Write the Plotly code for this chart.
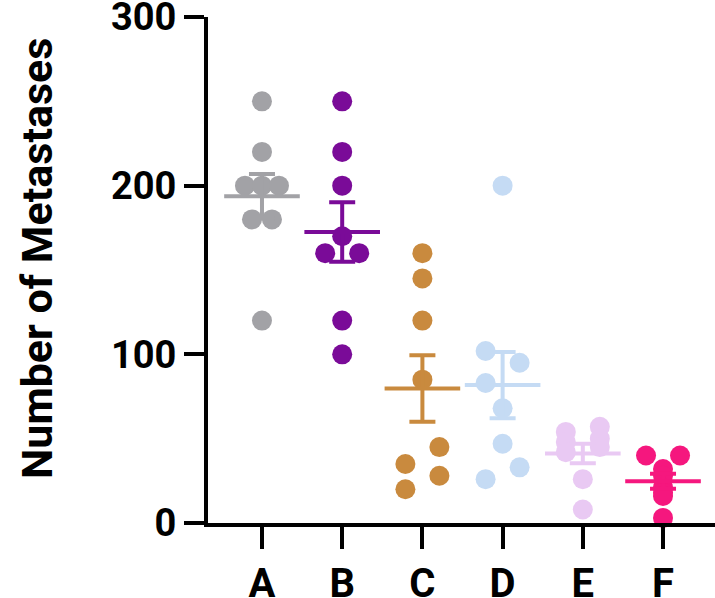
import numpy as np
import plotly.graph_objects as go

categories = ["A", "B", "C", "D", "E", "F"]
values_A = [250, 220, 200, 200, 200, 180, 180, 120]
values_B = [250, 220, 200, 170, 160, 160, 120, 100]
values_C = [160, 145, 120, 85, 45, 35, 28, 20]
values_D = [200, 102, 95, 83, 68, 47, 33, 26]
values_E = [57, 54, 50, 48, 45, 42, 26, 8]
values_F = [40, 40, 32, 28, 21, 18, 16, 3]
group_values = [values_A, values_B, values_C, values_D, values_E, values_F]
colors = ["#a2a2a6", "#7a0b98", "#c98a3e", "#c5dbf4", "#e9c9f3", "#f5177e"]
y_ticks = [0, 100, 200, 300]
y_title = "Number of Metastases"

W, H = 715, 598
ML, MR, MT, MB = 208, 0, 17, 75
Y_RANGE = [0, 300]
X_RANGE = [-0.673, 5.648]
DOT = 20
STEP = 17

plot_w = W - ML - MR
plot_h = H - MT - MB
px_x = plot_w / (X_RANGE[1] - X_RANGE[0])
px_y = plot_h / (Y_RANGE[1] - Y_RANGE[0])


def swarm(vals):
    """Prism-like spreading: nearby points alternate left/right, equal values spread symmetrically."""
    idx = sorted(range(len(vals)), key=lambda i: vals[i])
    rows = []
    for i in idx:
        if rows and vals[rows[-1][0]] == vals[i]:
            rows[-1].append(i)
        else:
            rows.append([i])
    clusters = []
    for r in rows:
        if clusters and (vals[r[0]] - vals[clusters[-1][-1][0]]) * px_y < DOT * 1.05:
            clusters[-1].append(r)
        else:
            clusters.append([r])
    offs = [0.0] * len(vals)
    for cl in clusters:
        has_multi = any(len(r) > 1 for r in cl)
        side = -1
        for r in cl:
            k = len(r)
            if k > 1:
                sp = STEP if (k >= 3 or len(cl) > 1) else DOT
                if k == 2 and len(cl) > 1:
                    sp = 2 * STEP
                for j, i in enumerate(r):
                    offs[i] = (j - (k - 1) / 2) * sp
            elif len(cl) == 1 or has_multi:
                offs[r[0]] = 0.0
            else:
                offs[r[0]] = side * STEP
                side = -side
    return offs


fig = go.Figure()
for gi, vals in enumerate(group_values):
    offs = swarm(vals)
    xs = [gi + o / px_x for o in offs]
    fig.add_trace(go.Scatter(
        x=xs, y=vals, mode="markers",
        marker=dict(size=DOT, color=colors[gi], line=dict(width=0)),
        cliponaxis=False, showlegend=False, hoverinfo="y"))

for gi, vals in enumerate(group_values):
    arr = np.array(vals, dtype=float)
    mean = arr.mean()
    sem = arr.std(ddof=1) / np.sqrt(len(arr))
    fig.add_trace(go.Scatter(
        x=[gi], y=[mean], mode="markers",
        marker=dict(symbol="line-ew", size=54, color=colors[gi],
                    line=dict(width=4, color=colors[gi])),
        error_y=dict(type="data", array=[sem], visible=True, width=13,
                     thickness=4, color=colors[gi]),
        cliponaxis=False, showlegend=False))

font_family = "Roboto, Arial, sans-serif"
title_center_px = 259
fig.add_annotation(
    text=y_title, textangle=-90, showarrow=False,
    xref="paper", yref="paper",
    x=(37 - ML) / plot_w, y=(H - MB - title_center_px) / plot_h,
    xanchor="center", yanchor="middle",
    font=dict(size=43, family=font_family, color="black", weight="bold"))

fig.update_layout(
    width=W, height=H,
    margin=dict(l=ML, r=MR, t=MT, b=MB, pad=0, autoexpand=False),
    plot_bgcolor="white", paper_bgcolor="white",
    font=dict(family=font_family, color="black", weight="bold"),
    xaxis=dict(range=X_RANGE, tickvals=list(range(len(categories))), ticktext=categories,
               showline=True, linecolor="black", linewidth=4,
               ticks="outside", ticklen=22, tickwidth=4, tickcolor="black",
               tickfont=dict(size=40, family=font_family, weight="bold"),
               showgrid=False, zeroline=False, fixedrange=True, automargin=False,
               ticklabeloverflow="allow"),
    yaxis=dict(range=Y_RANGE, tickvals=y_ticks, ticktext=[str(t) for t in y_ticks],
               showline=True, linecolor="black", linewidth=4,
               ticks="outside", ticklen=20, tickwidth=4, tickcolor="black",
               tickfont=dict(size=38, family=font_family, weight="bold"),
               showgrid=False, zeroline=False, fixedrange=True, automargin=False,
               ticklabeloverflow="allow"),
)

fig.write_html("out.html", config={"displayModeBar": False},
               post_script="document.body.style.margin='0';document.body.style.overflow='hidden';")
